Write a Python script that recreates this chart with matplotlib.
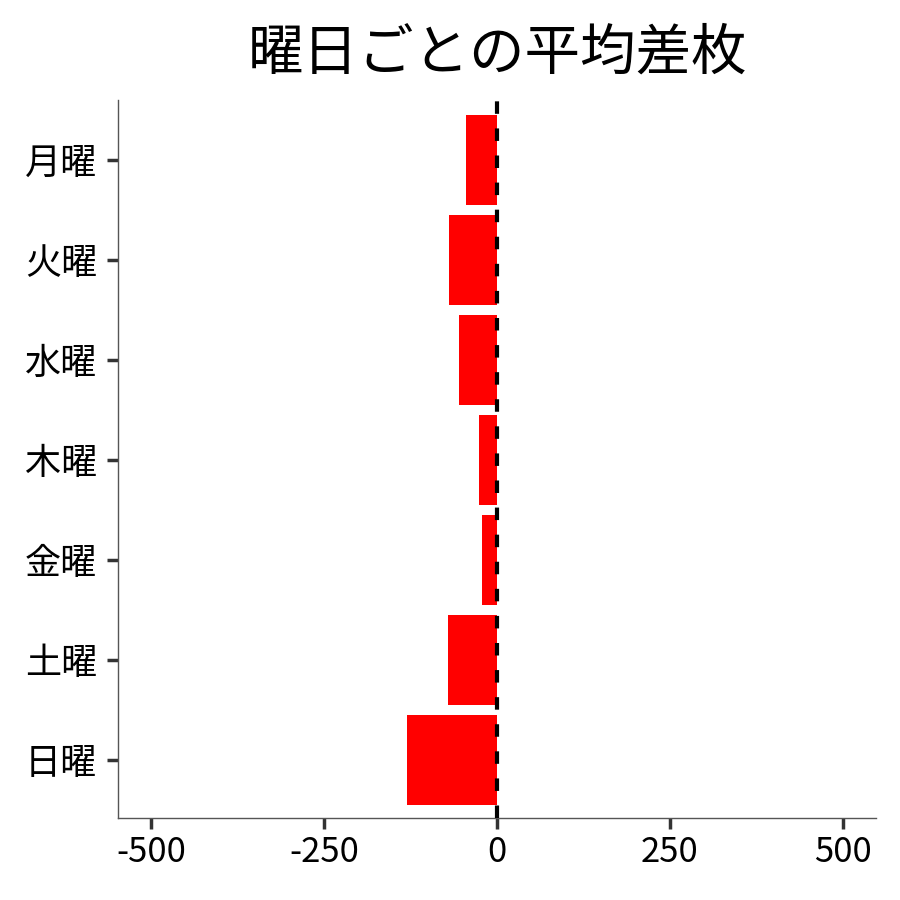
import matplotlib
matplotlib.use("Agg")
import matplotlib.pyplot as plt

plt.rcParams['font.family'] = ['Noto Sans CJK JP', 'DejaVu Sans']

days = ['月曜', '火曜', '水曜', '木曜', '金曜', '土曜', '日曜']
avg_diff = [-45, -70, -55, -26, -22, -71, -130]
xticks = [-500, -250, 0, 250, 500]

fig = plt.figure(figsize=(9, 9), dpi=100)
ax = fig.add_axes([118 / 900, 82 / 900, 758 / 900, 718 / 900])

ypos = list(range(len(days)))
ax.barh(ypos, avg_diff, height=0.9, color='#ff0000', zorder=2)
ax.axvline(0, color='black', linestyle='--', linewidth=3, dashes=(3, 3.5), zorder=3)

ax.set_yticks(ypos)
ax.set_yticklabels(days, fontsize=26)
ax.set_xticks(xticks)
ax.set_xticklabels([str(v) for v in xticks], fontsize=25)
ax.set_xlim(-548, 548)
ax.set_ylim(6.58, -0.6)

for side in ['top', 'right']:
    ax.spines[side].set_visible(False)
for side in ['left', 'bottom']:
    ax.spines[side].set_color('#555555')
    ax.spines[side].set_linewidth(1)
ax.tick_params(axis='y', length=8, width=2.5, color='#333333', pad=7)
ax.tick_params(axis='x', length=8, width=2.5, color='#333333', pad=4)

# title centred over the plotting area, like the original
ax.set_title('曜日ごとの平均差枚', fontsize=40, pad=22)

fig.savefig('out.png', dpi=100)
